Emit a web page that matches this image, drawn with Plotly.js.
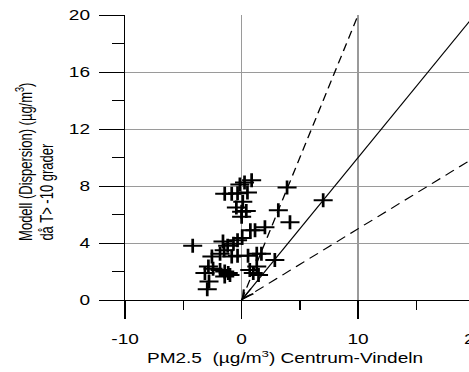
<!DOCTYPE html>
<html>
<head>
<meta charset="utf-8">
<script src="https://cdn.plot.ly/plotly-3.0.1.min.js"></script>
<style>
  html, body { margin: 0; padding: 0; overflow: hidden; background: #fff; width: 469px; height: 372px; }
  #plot { width: 357px; height: 372px; transform: scaleX(1.36); transform-origin: 0 0; }
</style>
</head>
<body>
<div id="plot"></div>
<script>
// Measured PM2.5 (Centrum-Vindeln) vs modelled (dispersion) values
const pmX = [0.86, 0.25, -0.15, -1.45, -0.85, -0.35, 0.5, 0.1, -0.45, 0.0, 0.4, 0.0,
             3.9, 3.15, 4.15, 2.0, 1.15, 0.75, 0.05, -0.35, -0.7, -1.6, -1.2, -1.5,
             -1.85, -2.55, -0.85, -0.35, 0.55, 1.3, 1.7, -4.2, -2.85, -2.45, -3.15, -1.85,
             -1.45, -1.15, -1.45, -1.0, 0.7, 1.3, 1.45, 1.0, -2.8, -2.95, 2.85, 7.0];
const modY = [8.4, 8.25, 8.1, 7.45, 7.45, 7.5, 7.55, 6.9, 6.5, 6.2, 6.25, 5.85,
              7.9, 6.3, 5.45, 5.1, 4.9, 4.9, 4.35, 4.2, 3.95, 4.1, 3.8, 3.5,
              3.25, 3.05, 3.05, 3.1, 3.1, 3.25, 3.25, 3.8, 2.35, 2.2, 1.9, 2.1,
              2.0, 1.9, 1.65, 1.75, 2.1, 2.35, 1.75, 1.9, 1.3, 0.75, 2.8, 7.0];

// Reference lines y = k*x
const refX = [0, 20];
const slope1to1 = 1;
const slopeUpper = 2;
const slopeLower = 0.5;

const xTicks = [-10, 0, 10, 20];
const yTicks = [0, 4, 8, 12, 16, 20];

const xTitle = 'PM2.5  (µg/m<sup>3</sup>) Centrum-Vindeln';
const yTitle1 = 'Modell (Dispersion) (µg/m<sup>3</sup>)';
const yTitle2 = 'då T> -10 grader';

const font = 'Liberation Sans, Arial, sans-serif';

const traces = [
  { x: refX, y: refX.map(v => v * slope1to1), mode: 'lines', type: 'scatter',
    line: { color: '#000', width: 1 }, hoverinfo: 'skip', showlegend: false },
  { x: refX, y: refX.map(v => v * slopeUpper), mode: 'lines', type: 'scatter',
    line: { color: '#000', width: 1, dash: '8px,5px' }, hoverinfo: 'skip', showlegend: false },
  { x: refX, y: refX.map(v => v * slopeLower), mode: 'lines', type: 'scatter',
    line: { color: '#000', width: 1, dash: '8px,5px' }, hoverinfo: 'skip', showlegend: false },
  { x: pmX, y: modY, mode: 'markers', type: 'scatter', showlegend: false,
    marker: { symbol: 'cross-thin-open', size: 10, color: '#000', line: { color: '#000', width: 2 } } }
];

const layout = {
  width: 357, height: 372,
  margin: { l: 92, r: 8, t: 15, b: 72 },
  paper_bgcolor: '#fff', plot_bgcolor: '#fff',
  font: { family: font, size: 14, color: '#000' },
  showlegend: false,
  xaxis: {
    range: [-10, 20], tickvals: xTicks, ticktext: xTicks.map(String),
    ticks: 'outside', ticklen: 18, tickwidth: 1, tickcolor: '#000',
    minor: { dtick: 5, tick0: 0, ticks: 'outside', ticklen: 9, tickcolor: '#000', showgrid: false },
    showline: true, linecolor: '#000', linewidth: 1,
    showgrid: true, gridcolor: '#9a9a9a', gridwidth: 1, zeroline: false,
    tickfont: { family: font, size: 14, color: '#000' }, ticklabelstandoff: 8
  },
  yaxis: {
    range: [0, 20], tickvals: yTicks, ticktext: yTicks.map(String),
    ticks: 'outside', ticklen: 18, tickwidth: 1, tickcolor: '#000',
    minor: { dtick: 2, tick0: 0, ticks: 'outside', ticklen: 9, tickcolor: '#000', showgrid: false },
    showline: true, linecolor: '#000', linewidth: 1,
    showgrid: true, gridcolor: '#9a9a9a', gridwidth: 1, zeroline: false,
    tickfont: { family: font, size: 14, color: '#000' }, ticklabelstandoff: 4
  },
  annotations: [
    { x: refX[0], y: refX[0] * slope1to1, xref: 'x', yref: 'y',
      ax: refX[0] + 0.9, ay: (refX[0] + 0.9) * slope1to1, axref: 'x', ayref: 'y',
      showarrow: true, arrowhead: 5, arrowsize: 1.6, arrowwidth: 1, arrowcolor: '#000', text: '' },
    { text: xTitle, xref: 'paper', yref: 'paper', x: 0.457, y: -0.2, xanchor: 'center', yanchor: 'middle',
      showarrow: false, font: { family: font, size: 14, color: '#000' } },
    { text: yTitle1, xref: 'paper', yref: 'paper', x: -0.29, y: 0.2, xanchor: 'center', yanchor: 'bottom',
      textangle: -90, showarrow: false, font: { family: font, size: 13, color: '#000' } },
    { text: yTitle2, xref: 'paper', yref: 'paper', x: -0.227, y: 0.2, xanchor: 'center', yanchor: 'bottom',
      textangle: -90, showarrow: false, font: { family: font, size: 13, color: '#000' } }
  ]
};

Plotly.newPlot('plot', traces, layout, { displayModeBar: false, staticPlot: true });
</script>
</body>
</html>
